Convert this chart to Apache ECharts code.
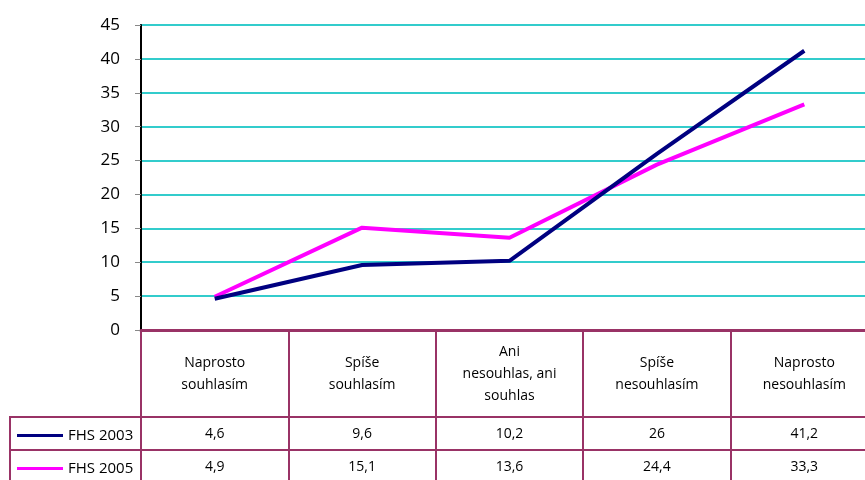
<!DOCTYPE html>
<html>
<head>
<meta charset="utf-8">
<script src="https://cdn.jsdelivr.net/npm/echarts@6/dist/echarts.min.js"></script>
<style>
  html, body { margin: 0; padding: 0; background: #fff; overflow: hidden; }
  /* the table runs past the right edge in the original, so the canvas is a bit wider than the window */
  #chart { width: 880px; height: 480px; }
</style>
</head>
<body>
<div id="chart"></div>
<script>
// categories (answers) and the two survey years
var categories = ["Naprosto\nsouhlasím", "Spíše\nsouhlasím", "Ani\nnesouhlas, ani\nsouhlas", "Spíše\nnesouhlasím", "Naprosto\nnesouhlasím"];
var fhs2003 = [4.6, 9.6, 10.2, 26, 41.2];
var fhs2005 = [4.9, 15.1, 13.6, 24.4, 33.3];
var seriesNames = ["FHS 2003", "FHS 2005"];
var yTicks = { min: 0, max: 45, step: 5 };

var FONT = "Open Sans";
var BORDER = "#993366";

function fmt(v) { return String(v).replace(".", ","); }

var chart = echarts.init(document.getElementById("chart"), null, { renderer: "canvas" });

// table rows are just extra category axes under the plot
function valueAxis(values, margin) {
    return {
        type: "category",
        gridIndex: 0,
        position: "bottom",
        data: categories,
        axisLine: { show: false },
        axisTick: { show: false },
        axisLabel: {
            interval: 0,
            margin: margin,
            verticalAlign: "middle",
            fontFamily: FONT,
            fontSize: 14,
            color: "#000",
            formatter: function (val, idx) { return fmt(values[idx]); }
        }
    };
}

function legendRow(name, top) {
    return {
        orient: "horizontal",
        left: 12,
        top: top,
        icon: "rect",
        itemWidth: 46,
        itemHeight: 3,
        data: [name],
        textStyle: { fontFamily: FONT, fontSize: 15, color: "#000" }
    };
}

chart.setOption({
    animation: false,
    grid: {
        left: 141, top: 25, right: 2, bottom: 150,
        show: true, borderColor: "#11ccee", borderWidth: 2, backgroundColor: "#fff"
    },
    legend: [legendRow(seriesNames[0], 423), legendRow(seriesNames[1], 456)],
    xAxis: [
        {
            type: "category",
            gridIndex: 0,
            position: "bottom",
            data: categories,
            boundaryGap: true,
            axisLine: { show: true, lineStyle: { color: BORDER, width: 3 } },
            axisTick: { show: true, interval: 0, length: 155, lineStyle: { color: BORDER, width: 2 } },
            axisLabel: {
                interval: 0,
                margin: 44,
                verticalAlign: "middle",
                align: "center",
                fontFamily: FONT,
                fontSize: 14,
                lineHeight: 22,
                color: "#000"
            }
        },
        valueAxis(fhs2003, 104),
        valueAxis(fhs2005, 137)
    ],
    yAxis: {
        type: "value",
        min: yTicks.min,
        max: yTicks.max,
        interval: yTicks.step,
        axisLine: { show: true, lineStyle: { color: "#000", width: 2 } },
        axisTick: { show: true, length: 6, lineStyle: { color: "#888" } },
        axisLabel: { margin: 21, fontFamily: FONT, fontSize: 17, color: "#000" },
        splitLine: { show: true, lineStyle: { color: "#33cccc", width: 2 } }
    },
    series: [
        {
            name: seriesNames[0],
            type: "line",
            data: fhs2003,
            symbol: "none",
            z: 3,
            lineStyle: { color: "#000080", width: 4 },
            itemStyle: { color: "#000080" }
        },
        {
            name: seriesNames[1],
            type: "line",
            data: fhs2005,
            symbol: "none",
            z: 2,
            lineStyle: { color: "#ff00ff", width: 4 },
            itemStyle: { color: "#ff00ff" }
        }
    ],
    graphic: [
        { type: "line", shape: { x1: 10, y1: 417, x2: 880, y2: 417 }, style: { stroke: BORDER, lineWidth: 2 } },
        { type: "line", shape: { x1: 10, y1: 450, x2: 880, y2: 450 }, style: { stroke: BORDER, lineWidth: 2 } },
        { type: "line", shape: { x1: 10, y1: 416, x2: 10, y2: 485 }, style: { stroke: BORDER, lineWidth: 2 } }
    ]
});
</script>
</body>
</html>
